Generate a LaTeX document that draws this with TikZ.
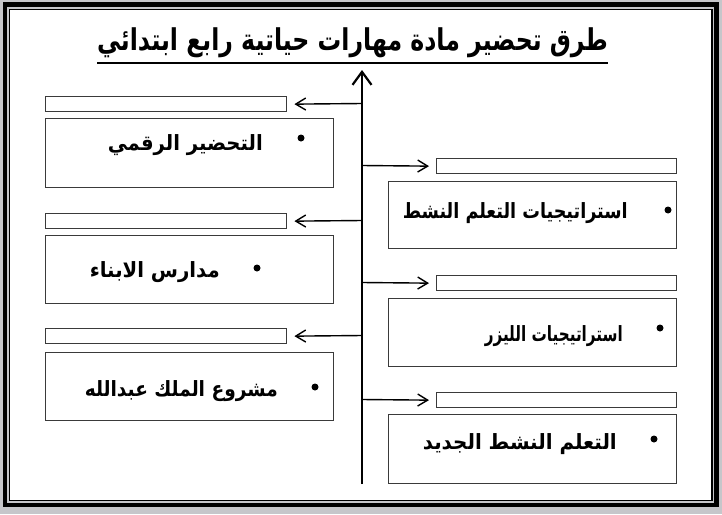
\documentclass[tikz,border=0pt]{standalone}
\usepackage{fontspec}
\usepackage{graphicx}
\usetikzlibrary{arrows.meta}
\newfontfamily\arabicfont[Script=Arabic]{DejaVu Sans}
\TeXXeTstate=1
\definecolor{bgray}{HTML}{C6C6CA}
\definecolor{boxline}{HTML}{3A3A3A}
\newcommand\fitwidth[2]{\resizebox{#1}{\height}{#2}}
\begin{document}
\begin{tikzpicture}[x=1pt,y=-1pt,
  smallbox/.style={draw=boxline, line width=1.4pt, fill=white, anchor=north west, inner sep=0pt, minimum height=15pt, minimum width=240pt},
  bigbox/.style={draw=boxline, line width=1.4pt, fill=white, anchor=north west, inner sep=0pt, minimum width=288pt},
  branch/.style={line width=1.4pt, -{Straight Barb[length=10pt,width=12pt,line width=1.4pt]}, shorten >=7pt},
  spine/.style={line width=2.6pt, -{Straight Barb[length=13pt,width=19pt,line width=2.2pt]}},
  lbl/.style={font=\arabicfont\bfseries\fontsize{21}{24}\selectfont, anchor=base east, inner sep=0pt},
  dot/.style={circle, fill=black, minimum size=7pt, inner sep=0pt},
]
\useasboundingbox (0,0) rectangle (722,514);
% frame
\fill[bgray] (0,0) rectangle (722,514);
\draw[line width=4.5pt] (5,4.5) rectangle (716.5,505);
\fill[white] (9.5,9.5) rectangle (712,500.5);
\draw[line width=1.2pt] (9.5,9.5) rectangle (712,500.5);
% title
\node[font=\arabicfont\bfseries\fontsize{30}{34}\selectfont, inner sep=0pt, anchor=base] (title) at (352.5,50) {\fitwidth{511pt}{\beginR طرق تحضير مادة مهارات حياتية رابع ابتدائي\endR}};
\coordinate (ulL) at (97,63);
\coordinate (ulR) at (608,63);
\draw[line width=2pt] (ulL) -- (ulR);
% spine
\coordinate (sbot) at (362,484);
\coordinate (stop) at (362,70);
\draw[spine] (sbot) -- (stop);
% left boxes
\node[smallbox, minimum width=241pt] (sl1) at (45,96) {};
\node[smallbox, minimum width=241pt] (sl2) at (45,213) {};
\node[smallbox, minimum width=241pt] (sl3) at (45,328) {};
\node[bigbox, minimum height=69pt] (bl1) at (45,118) {};
\node[bigbox, minimum height=68pt] (bl2) at (45,235) {};
\node[bigbox, minimum height=68pt] (bl3) at (45,352) {};
% right boxes
\node[smallbox] (sr1) at (436,158) {};
\node[smallbox] (sr2) at (436,275) {};
\node[smallbox] (sr3) at (436,392) {};
\node[bigbox, minimum height=67pt] (br1) at (388,181) {};
\node[bigbox, minimum height=68pt] (br2) at (388,298) {};
\node[bigbox, minimum height=69pt] (br3) at (388,414) {};
% branch points
\coordinate (pl1) at (362,103.5);
\coordinate (pl2) at (362,220.5);
\coordinate (pl3) at (362,335.5);
\coordinate (pr1) at (362,165.5);
\coordinate (pr2) at (362,282.5);
\coordinate (pr3) at (362,399.5);
\draw[branch] (pl1) -- (sl1.east);
\draw[branch] (pl2) -- (sl2.east);
\draw[branch] (pl3) -- (sl3.east);
\draw[branch] (pr1) -- (sr1.west);
\draw[branch] (pr2) -- (sr2.west);
\draw[branch] (pr3) -- (sr3.west);
% bullets and labels
\node[dot] (dl1) at (301,138) {};
\node[dot] (dl2) at (257,268) {};
\node[dot] (dl3) at (315,387) {};
\node[dot] (dr1) at (668,210) {};
\node[dot] (dr2) at (660,328) {};
\node[dot] (dr3) at (654,439) {};
\node[lbl] (tl1) at (263,150) {\fitwidth{155pt}{\beginR التحضير الرقمي\endR}};
\node[lbl] (tl2) at (220,277) {\fitwidth{130pt}{\beginR مدارس الابناء\endR}};
\node[lbl] (tl3) at (278,396) {\fitwidth{193pt}{\beginR مشروع الملك عبدالله\endR}};
\node[lbl] (tr1) at (628,218) {\fitwidth{225pt}{\beginR استراتيجيات التعلم النشط\endR}};
\node[lbl] (tr2) at (623,341) {\fitwidth{138pt}{\beginR استراتيجيات الليزر\endR}};
\node[lbl] (tr3) at (617,449) {\fitwidth{194pt}{\beginR التعلم النشط الجديد\endR}};
\end{tikzpicture}
\end{document}
